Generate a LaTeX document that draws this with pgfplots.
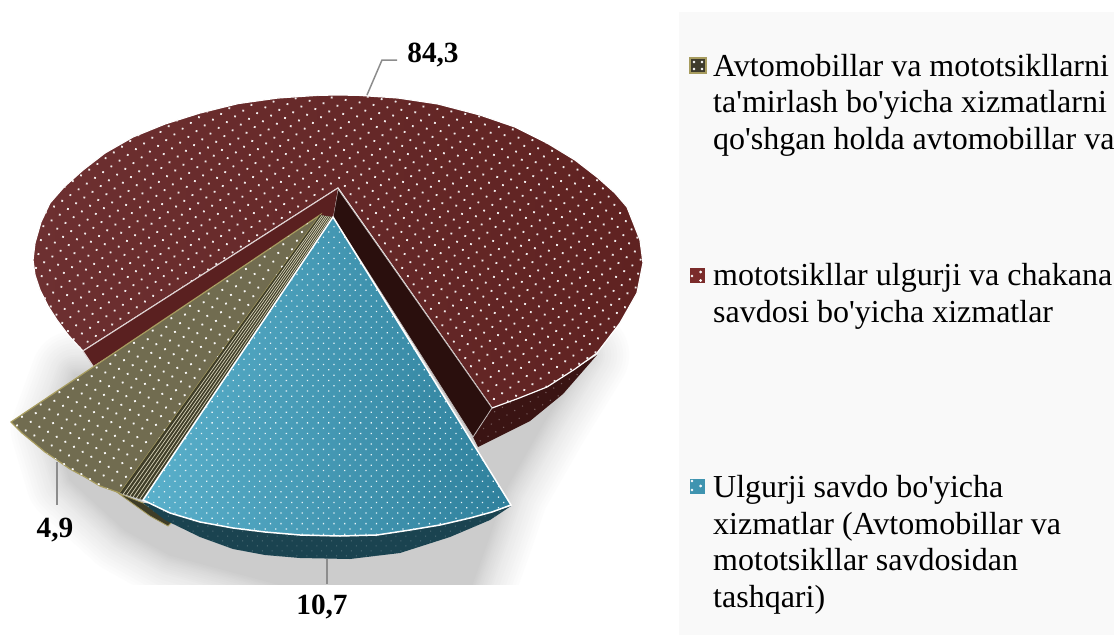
\documentclass[border=0pt]{standalone}
\usepackage{fontspec}
\setmainfont{Liberation Serif}
\newfontfamily\legfont{Liberation Serif}
\usepackage{pgfplots}
\pgfplotsset{compat=1.18}
\usepackage{pgfplotstable}
\usetikzlibrary{patterns.meta}
\definecolor{panel}{HTML}{F9F9F9}
\definecolor{redL}{HTML}{6D3031}
\definecolor{redR}{HTML}{5F2221}
\definecolor{redwall}{HTML}{3A1413}
\definecolor{reddark}{HTML}{2A0F0D}
\definecolor{redcut}{HTML}{5A2020}
\definecolor{redkey}{HTML}{7B2C2B}
\definecolor{olive}{HTML}{716C50}
\definecolor{oliverim}{HTML}{A79C5F}
\definecolor{olivedark}{HTML}{3F3D28}
\definecolor{blueL}{HTML}{5AB0CB}
\definecolor{blueR}{HTML}{2F809C}
\definecolor{bluekey}{HTML}{3F94B0}
\definecolor{bluewall}{HTML}{1A4350}
\definecolor{leader}{HTML}{8C8C8C}

\pgfplotstableread{
x y
55 430
70 480
125 530
170 555
300 590
470 590
488 540
505 490
545 420
585 355
460 370
75 375
}\shadowtbl

\pgfplotstableread{
x y
338 188
492 408
518 398.5
547 387
575 369
597 353
620 323
637 293
643 263
640 240
627 207
615 193
597 177
575 160
547 143
515 127
480 115
438 104
398 98
358 95.3
338 95
318 95.3
278 98
238 103.6
200 113
165 124
133 137
105 153
83 170
64 187
50 203
41 222
35 243
33 260
35 275
40 290
48 306
57 320
69 336
83 351
}\redtoptbl

\pgfplotstableread{
x y
320 215
11 422
22 433
33 442
45 452
57 460
70 469
85 477
100 486
120 493
}\olivetbl

\pgfplotstableread{
x y
333 217
143 500
170 513
200 522
233 528
265 532
300 535
340 536
377 535
410 530
440 525
470 518
492 512
511 505
}\bluetbl

\pgfplotstableread{
x y
143 503
165 520
200 537
233 549
265 555
300 558
350 559
400 553
450 537
490 520
511 506
492 512
470 518
440 525
}\bluewalltbl

\newcommand{\shadowlayer}[2]{\addplot[draw=black!#2,fill=black!#2,line width=#1pt,line join=round] table[x=x,y=y]{\shadowtbl} --cycle;}
\newcommand{\legline}[2]{\node[anchor=base west,inner sep=0pt,font=\legfont\fontsize{32}{36}\selectfont] at (axis cs:713,#1) {#2};}
\newcommand{\vallabel}[2]{\node[inner sep=0pt,font=\legfont\fontsize{29.3}{32}\selectfont\bfseries,anchor=base] at (axis cs:#1) {#2};}

\begin{document}
\begin{tikzpicture}
\begin{axis}[
  scale only axis, width=1114pt, height=635pt,
  xmin=0, xmax=1114, ymin=0, ymax=635, y dir=reverse,
  axis lines=none, enlargelimits=false, clip=true,
]
% page and legend panel
\addplot[fill=white,draw=none] coordinates {(0,0) (1114,0) (1114,635) (0,635)} --cycle;

% soft shadow, lightest layer first
\shadowlayer{88}{1}
\shadowlayer{82}{2}
\shadowlayer{76}{3}
\shadowlayer{70}{4}
\shadowlayer{64}{5}
\shadowlayer{58}{6}
\shadowlayer{52}{7}
\shadowlayer{46}{8}
\shadowlayer{40}{9}
\shadowlayer{36}{10}
\shadowlayer{32}{11}
\shadowlayer{28}{12}
\shadowlayer{24}{13}
\shadowlayer{20}{14}
\shadowlayer{16}{15}
\shadowlayer{13}{16}
\shadowlayer{10}{17}
\shadowlayer{7}{18}
\shadowlayer{4}{19}
\shadowlayer{1}{20}
\addplot[fill=white,draw=none] coordinates {(0,585) (690,585) (690,640) (0,640)} --cycle;
\addplot[fill=panel,draw=none] coordinates {(679,12) (1114,12) (1114,635) (679,635)} --cycle;

% big slice: outer wall
\addplot[fill=redwall,draw=none] coordinates {(492,408) (473,437) (478,447) (530,421) (563,394) (597,355) (575,369) (547,387) (518,398.5)} --cycle;
\addplot[pattern={Dots[distance=9pt,radius=.8pt,angle=30]},pattern color=white!30!redwall,draw=none] coordinates {(492,408) (473,437) (478,447) (530,421) (563,394) (597,355) (575,369) (547,387) (518,398.5)} --cycle;
% big slice: top
\addplot[left color=redL,right color=redR,draw=white,line width=1.2pt] table[x=x,y=y]{\redtoptbl} --cycle;
\addplot[pattern={Dots[distance=10pt,radius=1.3pt,angle=35]},pattern color=white!90!redR,draw=none] table[x=x,y=y]{\redtoptbl} --cycle;
% big slice: cut walls
\addplot[fill=reddark,draw=white!70!reddark,line width=.8pt] coordinates {(338,189) (492,408) (473,437) (333,217)} --cycle;
\addplot[fill=redcut,draw=none] coordinates {(338,188) (83,351) (93,366) (333,217)} --cycle;
\addplot[draw=white!80!redcut,line width=1pt] coordinates {(338,188) (83,351) (93,366)};

% small slice
\addplot[fill=olive,draw=oliverim,line width=1.2pt] table[x=x,y=y]{\olivetbl} --cycle;
\addplot[pattern={Dots[distance=10pt,radius=1.3pt,angle=-30]},pattern color=white!95!olive,draw=none] table[x=x,y=y]{\olivetbl} --cycle;
\addplot[fill=olivedark,draw=none] coordinates {(320,215) (120,493) (143,500) (333,217)} --cycle;
\addplot[draw=white!55!oliverim,line width=.7pt] coordinates {(322,215.3) (123.3,494)};
\addplot[draw=white!55!oliverim,line width=.7pt] coordinates {(323.7,215.6) (126.6,495)};
\addplot[draw=white!55!oliverim,line width=.7pt] coordinates {(325.6,216) (129.9,496)};
\addplot[draw=white!55!oliverim,line width=.7pt] coordinates {(327.4,216.1) (133.1,497)};
\addplot[draw=white!55!oliverim,line width=.7pt] coordinates {(329.3,216.4) (136.4,498)};
\addplot[draw=white!55!oliverim,line width=.7pt] coordinates {(331.1,216.7) (139.7,499)};
\addplot[fill=olivedark,draw=oliverim,line width=.8pt] coordinates {(118,493) (143,503) (172,522) (168,526) (150,516)} --cycle;

% blue slice
\addplot[fill=bluewall,draw=none] table[x=x,y=y]{\bluewalltbl} --cycle;
\addplot[pattern={Dots[distance=7pt,radius=.7pt,angle=45]},pattern color=white!25!bluewall,draw=none] table[x=x,y=y]{\bluewalltbl} --cycle;
\addplot[left color=blueL,right color=blueR,draw=white,line width=1.5pt] table[x=x,y=y]{\bluetbl} --cycle;
\addplot[pattern={Dots[distance=7.5pt,radius=.9pt,angle=45]},pattern color=white!85!blueL,draw=none] table[x=x,y=y]{\bluetbl} --cycle;

% leaders
\addplot[draw=leader,line width=1.5pt] coordinates {(367,95) (382,60) (397,60)};
\addplot[draw=leader,line width=1.5pt] coordinates {(57,462) (57,505)};
\addplot[draw=leader,line width=1.5pt] coordinates {(327,559) (327,584)};

% legend keys
\addplot[fill=black!45!olive,draw=oliverim,line width=2pt] coordinates {(690,58) (706,58) (706,73) (690,73)} --cycle;
\addplot[only marks,mark=*,mark size=1.1pt,white] coordinates {(694,62) (702,62) (694,69) (702,69)};
\addplot[fill=redkey,draw=none] coordinates {(690,268) (705,268) (705,283) (690,283)} --cycle;
\addplot[only marks,mark=*,mark size=1.2pt,white] coordinates {(700.7,272) (692,276) (700.7,280.5)};
\addplot[fill=bluekey,draw=none] coordinates {(690,479) (705,479) (705,494) (690,494)} --cycle;
\addplot[only marks,mark=*,mark size=1.2pt,white] coordinates {(692,481) (700.7,486) (692,490)};

% value labels
\vallabel{433,62}{84,3}
\vallabel{55,537}{4,9}
\vallabel{322,614}{10,7}

% legend text
\legline{76}{Avtomobillar va mototsikllarni}
\legline{112.5}{ta'mirlash bo'yicha xizmatlarni}
\legline{149}{qo'shgan holda avtomobillar va}
\legline{285}{mototsikllar ulgurji va chakana}
\legline{322}{savdosi bo'yicha xizmatlar}
\legline{497}{Ulgurji savdo bo'yicha}
\legline{534}{xizmatlar (Avtomobillar va}
\legline{570.5}{mototsikllar savdosidan}
\legline{607}{tashqari)}
\end{axis}
\end{tikzpicture}
\end{document}
